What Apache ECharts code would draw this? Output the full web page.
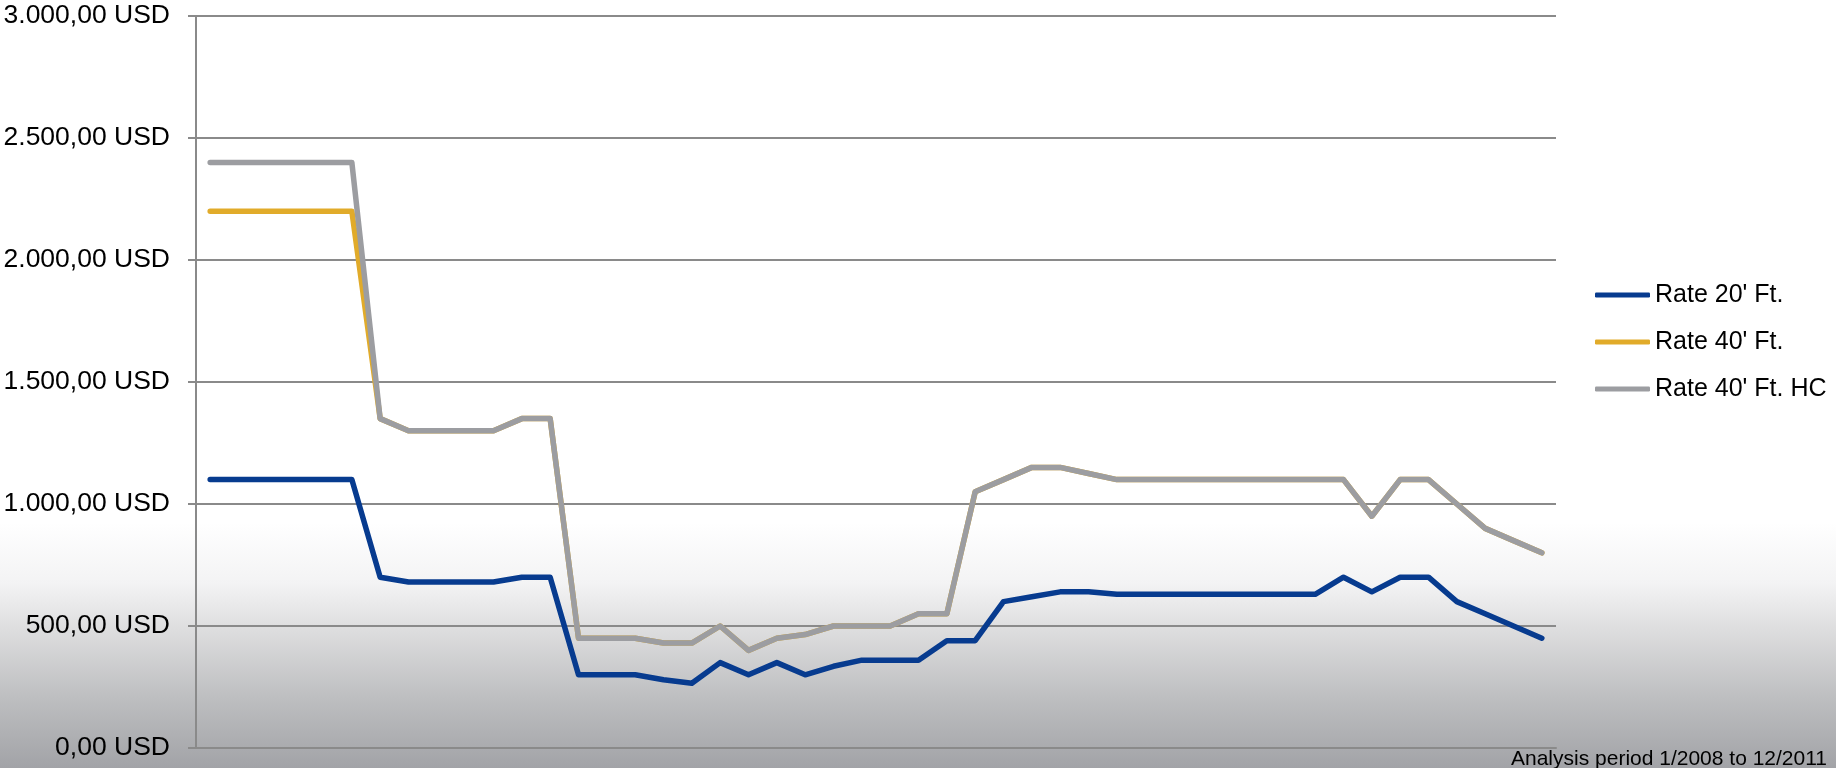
<!DOCTYPE html>
<html>
<head>
<meta charset="utf-8">
<script src="https://cdn.jsdelivr.net/npm/echarts@6/dist/echarts.min.js"></script>
<style>
  html, body { margin: 0; padding: 0; }
  #chart { width: 1836px; height: 768px; }
</style>
</head>
<body>
<div id="chart"></div>
<script>
// months 1/2008 .. 12/2011
const months = [
  '1/2008', '2/2008', '3/2008', '4/2008', '5/2008', '6/2008', '7/2008', '8/2008', '9/2008', '10/2008', '11/2008', '12/2008',
  '1/2009', '2/2009', '3/2009', '4/2009', '5/2009', '6/2009', '7/2009', '8/2009', '9/2009', '10/2009', '11/2009', '12/2009',
  '1/2010', '2/2010', '3/2010', '4/2010', '5/2010', '6/2010', '7/2010', '8/2010', '9/2010', '10/2010', '11/2010', '12/2010',
  '1/2011', '2/2011', '3/2011', '4/2011', '5/2011', '6/2011', '7/2011', '8/2011', '9/2011', '10/2011', '11/2011', '12/2011'
]

const rate20 = [
  1100, 1100, 1100, 1100, 1100, 1100, 700, 680, 680, 680, 680, 700,
  700, 300, 300, 300, 280, 265, 350, 300, 350, 300, 335, 360,
  360, 360, 440, 440, 600, 620, 640, 640, 630, 630, 630, 630,
  630, 630, 630, 630, 700, 640, 700, 700, 600, 550, 500, 450
]

const rate40 = [
  2200, 2200, 2200, 2200, 2200, 2200, 1350, 1300, 1300, 1300, 1300, 1350,
  1350, 450, 450, 450, 430, 430, 500, 400, 450, 465, 500, 500,
  500, 550, 550, 1050, 1100, 1150, 1150, 1125, 1100, 1100, 1100, 1100,
  1100, 1100, 1100, 1100, 1100, 950, 1100, 1100, 1000, 900, 850, 800
]

const rate40hc = [
  2400, 2400, 2400, 2400, 2400, 2400, 1350, 1300, 1300, 1300, 1300, 1350,
  1350, 450, 450, 450, 430, 430, 500, 400, 450, 465, 500, 500,
  500, 550, 550, 1050, 1100, 1150, 1150, 1125, 1100, 1100, 1100, 1100,
  1100, 1100, 1100, 1100, 1100, 950, 1100, 1100, 1000, 900, 850, 800
]

const yTickLabels = ['0,00 USD', '500,00 USD', '1.000,00 USD', '1.500,00 USD', '2.000,00 USD', '2.500,00 USD', '3.000,00 USD']

const FONT = '"Liberation Sans", Arial, sans-serif'
const GRID_COLOR = '#8a8a8a'

const chart = echarts.init(document.getElementById('chart'))

function lineSeries(name, data, color) {
  return {
    name,
    type: 'line',
    data,
    symbol: 'none',
    animation: false,
    itemStyle: { color },
    lineStyle: { color, width: 5.5, cap: 'round', join: 'round' }
  }
}

chart.setOption({
  backgroundColor: {
    type: 'linear', x: 0, y: 0, x2: 0, y2: 1,
    colorStops: [
      { offset: 0, color: '#ffffff' },
      { offset: 0.68, color: '#ffffff' },
      { offset: 0.76, color: '#f3f3f4' },
      { offset: 0.815, color: '#dfdfe0' },
      { offset: 0.91, color: '#bdbec0' },
      { offset: 1, color: '#a2a3a7' }
    ]
  },
  animation: false,
  grid: { left: 196, right: 280, top: 16, bottom: 20, containLabel: false, outerBoundsMode: 'none' },
  legend: {
    orient: 'vertical',
    left: 1590,
    top: 277,
    itemWidth: 55,
    itemHeight: 5,
    itemGap: 21,
    icon: 'roundRect',
    textStyle: { fontFamily: FONT, fontSize: 25, color: '#000', lineHeight: 26 },
    data: ['Rate 20\' Ft.', 'Rate 40\' Ft.', 'Rate 40\' Ft. HC']
  },
  xAxis: {
    type: 'category',
    data: months,
    boundaryGap: true,
    axisLine: { show: true, lineStyle: { color: GRID_COLOR, width: 2 } },
    axisTick: { show: false },
    axisLabel: { show: false },
    splitLine: { show: false }
  },
  yAxis: {
    type: 'value',
    min: 0,
    max: 3000,
    interval: 500,
    axisLine: { show: true, lineStyle: { color: GRID_COLOR, width: 2 } },
    axisTick: { show: true, length: 8, lineStyle: { color: GRID_COLOR, width: 2 } },
    axisLabel: {
      margin: 26,
      fontFamily: FONT,
      fontSize: 26.5,
      color: '#000',
      formatter: (v) => yTickLabels[Math.round(v / 500)]
    },
    splitLine: { show: true, lineStyle: { color: GRID_COLOR, width: 2 } }
  },
  series: [
    lineSeries('Rate 20\' Ft.', rate20, '#073b8f'),
    lineSeries('Rate 40\' Ft.', rate40, '#e1ab2a'),
    lineSeries('Rate 40\' Ft. HC', rate40hc, '#9c9da1')
  ],
  graphic: [
    {
      type: 'text',
      right: 9,
      top: 749,
      style: {
        text: 'Analysis period 1/2008 to 12/2011',
        font: '21px "Liberation Sans", Arial, sans-serif',
        fill: '#000'
      }
    }
  ]
})
</script>
</body>
</html>
